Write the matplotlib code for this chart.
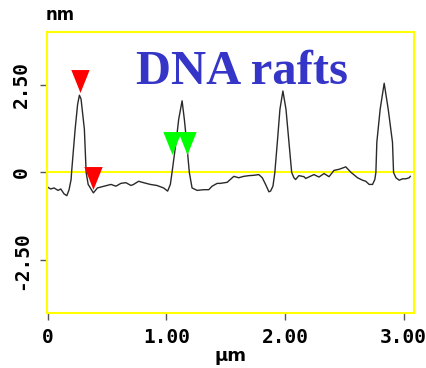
import numpy as np
import matplotlib.pyplot as plt
from matplotlib.path import Path

# height profile
x_um = [0.00, 0.025, 0.053, 0.087, 0.11, 0.138, 0.161, 0.18, 0.197, 0.201,
        0.231, 0.252, 0.267, 0.281, 0.309, 0.324, 0.341, 0.385, 0.419, 0.476,
        0.533, 0.575, 0.617, 0.659, 0.702, 0.724, 0.766, 0.808, 0.865, 0.921,
        0.977, 1.011, 1.034, 1.048, 1.085, 1.104, 1.133, 1.152, 1.169, 1.194,
        1.217, 1.260, 1.315, 1.358, 1.386, 1.429, 1.456, 1.513, 1.569, 1.611,
        1.653, 1.696, 1.738, 1.780, 1.809, 1.837, 1.865, 1.879, 1.899, 1.915,
        1.936, 1.958, 1.983, 2.009, 2.034, 2.057, 2.076, 2.090, 2.118, 2.161,
        2.175, 2.245, 2.287, 2.330, 2.372, 2.414, 2.456, 2.513, 2.555, 2.612,
        2.654, 2.682, 2.710, 2.739, 2.758, 2.767, 2.775, 2.803, 2.837, 2.871,
        2.907, 2.916, 2.936, 2.964, 2.992, 3.020, 3.048, 3.057]
z_nm = [-0.42, -0.47, -0.44, -0.51, -0.47, -0.61, -0.66, -0.49, -0.20, 0.00,
        1.23, 1.94, 2.20, 2.09, 1.23, 0.00, -0.34, -0.58, -0.44, -0.39,
        -0.34, -0.39, -0.31, -0.29, -0.37, -0.34, -0.25, -0.29, -0.34, -0.37,
        -0.44, -0.53, -0.34, 0.00, 0.94, 1.51, 2.04, 1.51, 0.94, 0.00,
        -0.44, -0.51, -0.49, -0.49, -0.39, -0.31, -0.31, -0.28, -0.11, -0.15,
        -0.11, -0.09, -0.08, -0.06, -0.15, -0.34, -0.55, -0.53, -0.39, 0.00,
        0.86, 1.80, 2.32, 1.80, 0.86, 0.00, -0.15, -0.20, -0.09, -0.12,
        -0.17, -0.06, -0.13, -0.03, -0.12, 0.06, 0.09, 0.16, 0.01, -0.15,
        -0.22, -0.25, -0.34, -0.34, -0.20, 0.00, 0.86, 1.80, 2.54, 1.80,
        0.86, 0.00, -0.15, -0.22, -0.18, -0.18, -0.15, -0.11]

red_x = [0.270, 0.379]
red_z = [2.60, -0.17]
green_x = [1.051, 1.176]
green_z = [0.84, 0.84]

xticks = [0, 1, 2, 3]
xlabels = ['0', '1.00', '2.00', '3.00']
yticks = [-2.5, 0, 2.5]
ylabels = ['-2.50', '0', '2.50']

tri = Path([(-0.8, 1), (0.8, 1), (0, -1), (-0.8, 1)])

fig = plt.figure(figsize=(4.27, 3.68), dpi=100)
ax = fig.add_axes([0.109, 0.1495, 0.861, 0.7636])

ax.axhline(0, color='#ffff00', lw=1.5, zorder=1)
ax.plot(x_um, z_nm, color='#2a2a2a', lw=1.0, zorder=2)
ax.plot(red_x, red_z, ls='none', marker=tri, ms=16.5, color='#ff0000', mec='none', zorder=3)
ax.plot(green_x, green_z, ls='none', marker=tri, ms=16.5, color='#00ff00', mec='none', zorder=3)

ax.set_xlim(-0.01, 3.09)
ax.set_ylim(-4, 4)
for s in ax.spines.values():
    s.set_color('#ffff00')
    s.set_linewidth(1.5)

tfont = dict(family='DejaVu Sans Mono', weight='bold', size=14)
ax.set_xticks(xticks)
ax.set_xticklabels(xlabels, **tfont)
ax.set_yticks(yticks)
ax.set_yticklabels(ylabels, rotation=90, va='center', **tfont)
ax.tick_params(direction='out', length=5, width=1, color='#555555', pad=6)

ax.set_xlabel('µm', family='DejaVu Sans', weight='bold', size=13, labelpad=0)
fig.text(0.14, 0.958, 'nm', family='DejaVu Sans', weight='bold', size=12, ha='center', va='center')

ax.text(0.532, 0.857, 'DNA rafts', transform=ax.transAxes, ha='center', va='center',
        family='Liberation Serif', weight='bold', size=35, color='#3535c8')

fig.savefig('out.png', dpi=100)
